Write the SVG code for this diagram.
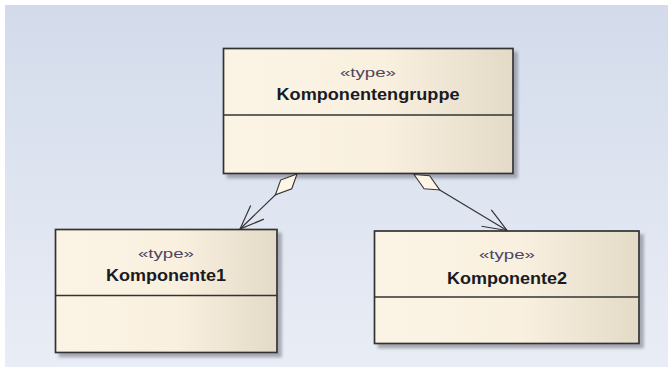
<svg xmlns="http://www.w3.org/2000/svg" width="668" height="372" viewBox="0 0 668 372">
  <defs>
    <linearGradient id="bg" x1="0" y1="0" x2="0" y2="1">
      <stop offset="0" stop-color="#d3dbeb"/>
      <stop offset="1" stop-color="#e9edf5"/>
    </linearGradient>
    <linearGradient id="boxfill" x1="0" y1="0" x2="1" y2="0">
      <stop offset="0" stop-color="#fbf4e5"/>
      <stop offset="0.55" stop-color="#f9f0df"/>
      <stop offset="1" stop-color="#e4dac8"/>
    </linearGradient>
    <filter id="shadow" x="-10%" y="-10%" width="125%" height="130%">
      <feDropShadow dx="4" dy="4" stdDeviation="1.5" flood-color="#6f7380" flood-opacity="0.55"/>
    </filter>
    <marker id="diamond" markerUnits="userSpaceOnUse" orient="auto" refX="0" refY="0" markerWidth="40" markerHeight="20" overflow="visible">
      <path d="M0,0 L14,-7 L30,0 L16,7 Z" fill="#fdf6e4" stroke="#333" stroke-width="1.1"/>
    </marker>
    <marker id="openarrow" markerUnits="userSpaceOnUse" orient="auto" refX="0" refY="0" markerWidth="30" markerHeight="30" overflow="visible">
      <path d="M-24,-9.5 L0,0 L-24,9.5" fill="none" stroke="#333" stroke-width="1.2"/>
    </marker>
  </defs>
  <style>
    .box { fill: url(#boxfill); stroke: #333333; stroke-width: 1.7; }
    .div { stroke: #333333; stroke-width: 1.5; }
    .stereo { font-family: "Liberation Sans", Arial, sans-serif; font-size: 13.5px; fill: #4e4660; text-anchor: middle; }
    .name { font-family: "Liberation Sans", Arial, sans-serif; font-size: 16px; font-weight: bold; fill: #1a1a22; text-anchor: middle; }
    .conn { fill: none; stroke: #333; stroke-width: 1.2; marker-start: url(#diamond); marker-end: url(#openarrow); }
  </style>
  <rect x="0" y="0" width="668" height="372" fill="#ffffff"/>
  <rect x="5" y="5" width="663" height="362" fill="url(#bg)"/>

  <g id="Komponentengruppe">
    <rect class="box" x="223.5" y="48.5" width="289.5" height="125" filter="url(#shadow)"/>
    <line class="div" x1="223.5" y1="115" x2="513" y2="115"/>
    <text class="stereo" x="368" y="77" textLength="56" lengthAdjust="spacingAndGlyphs">«type»</text>
    <text class="name" x="368" y="100" textLength="183" lengthAdjust="spacingAndGlyphs">Komponentengruppe</text>
  </g>

  <g id="Komponente1">
    <rect class="box" x="55.5" y="229.5" width="221.5" height="123" filter="url(#shadow)"/>
    <line class="div" x1="55.5" y1="295.5" x2="277" y2="295.5"/>
    <text class="stereo" x="166" y="257.5" textLength="56" lengthAdjust="spacingAndGlyphs">«type»</text>
    <text class="name" x="166" y="281" textLength="120" lengthAdjust="spacingAndGlyphs">Komponente1</text>
  </g>

  <g id="Komponente2">
    <rect class="box" x="374.5" y="231" width="264.5" height="112.5" filter="url(#shadow)"/>
    <line class="div" x1="374.5" y1="297" x2="639" y2="297"/>
    <text class="stereo" x="507" y="258.5" textLength="56" lengthAdjust="spacingAndGlyphs">«type»</text>
    <text class="name" x="507" y="283.5" textLength="120" lengthAdjust="spacingAndGlyphs">Komponente2</text>
  </g>

  <g id="connectors">
    <path class="conn" d="M297,174 L240,229"/>
    <path class="conn" d="M414,174.5 L507,230.5"/>
  </g>
</svg>
